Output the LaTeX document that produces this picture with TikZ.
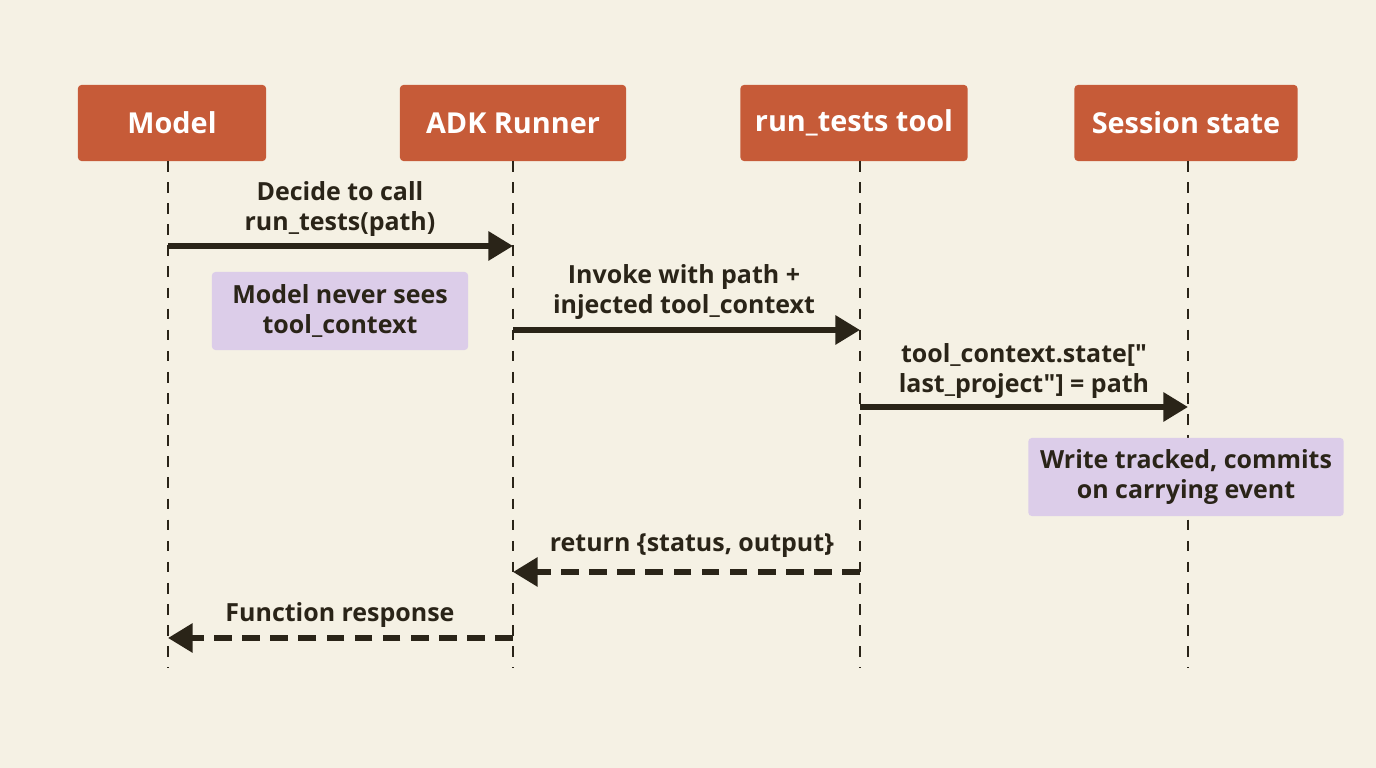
\documentclass[tikz,border=0pt]{standalone}
\usepackage{fontspec}
\setmainfont{Open Sans}[Ligatures=TeXOff]
\usetikzlibrary{arrows.meta}
\definecolor{bgcol}{HTML}{F5F1E4}
\definecolor{actorcol}{HTML}{C65B38}
\definecolor{notecol}{HTML}{DCCDE9}
\definecolor{inkcol}{HTML}{2A2418}
\tikzset{
  actor/.style={fill=actorcol, rounded corners=1pt, minimum width=#1, minimum height=0.76cm,
    text=white, font=\fontsize{8.2}{10}\selectfont\bfseries},
  note/.style={fill=notecol, rounded corners=1pt, minimum width=#1, minimum height=0.78cm,
    text=inkcol, align=center, font=\fontsize{7.1}{8.3}\selectfont\bfseries},
  life/.style={dashed, inkcol, line width=0.6pt},
  msg/.style={-{Triangle[length=7pt,width=8pt]}, inkcol, line width=1.6pt},
  ret/.style={msg, dash pattern=on 5pt off 3pt},
  lbl/.style={text=inkcol, align=center, font=\fontsize{7.1}{8.3}\selectfont\bfseries}
}
\begin{document}
\begin{tikzpicture}[x=0.01cm,y=-0.01cm]
  \fill[bgcol] (0,0) rectangle (1376,768);
  % participants
  \node[actor=1.88cm] (model) at (172,123) {Model};
  \node[actor=2.26cm] (runner) at (513,123) {ADK Runner};
  \node[actor=2.27cm] (tool) at (854,123) {run\_tests tool};
  \node[actor=2.23cm] (state) at (1186,123) {Session state};
  % lifelines
  \coordinate (m0) at (168,161); \coordinate (m1) at (168,668);
  \coordinate (r0) at (513,161); \coordinate (r1) at (513,668);
  \coordinate (t0) at (860,161); \coordinate (t1) at (860,668);
  \coordinate (s0) at (1188,161); \coordinate (s1) at (1188,668);
  \draw[life] (m0) -- (m1);
  \draw[life] (r0) -- (r1);
  \draw[life] (t0) -- (t1);
  \draw[life] (s0) -- (s1);
  % messages
  \coordinate (a0) at (168,246); \coordinate (a1) at (513,246);
  \coordinate (b0) at (513,330); \coordinate (b1) at (860,330);
  \coordinate (c0) at (860,407); \coordinate (c1) at (1188,407);
  \coordinate (d0) at (860,572); \coordinate (d1) at (513,572);
  \coordinate (e0) at (513,638); \coordinate (e1) at (168,638);
  \draw[msg] (a0) -- (a1);
  \draw[msg] (b0) -- (b1);
  \draw[msg] (c0) -- (c1);
  \draw[ret] (d0) -- (d1);
  \draw[ret] (e0) -- (e1);
  \node[lbl] (la) at (340,209) {Decide to call\\run\_tests(path)};
  \node[lbl] (lb) at (684,292) {Invoke with path +\\injected tool\_context};
  \node[lbl] (lc) at (1024,371) {tool\_context.state["\\last\_project"] = path};
  \node[lbl] (ld) at (692,546) {return \{status, output\}};
  \node[lbl] (le) at (340,615) {Function response};
  % notes
  \node[note=2.56cm] (n1) at (340,311) {Model never sees\\tool\_context};
  \node[note=2.98cm] (n2) at (1186,477) {Write tracked, commits\\on carrying event};
\end{tikzpicture}
\end{document}
